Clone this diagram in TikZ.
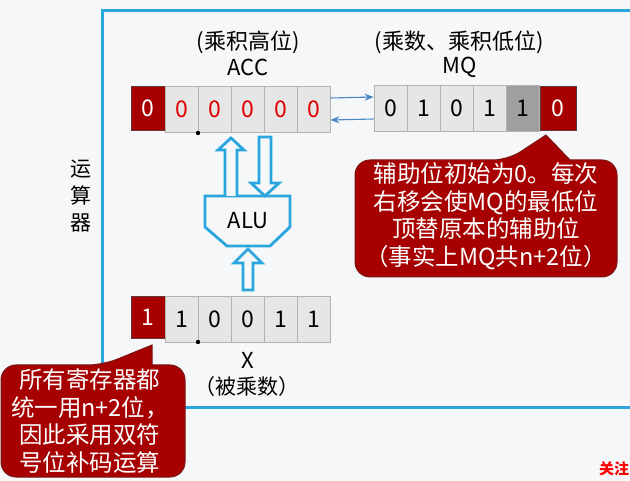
\documentclass[tikz,border=0pt]{standalone}
\usepackage{fontspec}
\setmainfont{Noto Sans CJK SC}
\usetikzlibrary{arrows.meta}

\definecolor{bgcol}{HTML}{F6F7F8}
\definecolor{frameblue}{HTML}{2AA6DF}
\definecolor{cellgray}{HTML}{E6E6E6}
\definecolor{cellline}{HTML}{B2B2B2}
\definecolor{darkcell}{HTML}{9F9F9F}
\definecolor{signred}{HTML}{A80000}
\definecolor{signline}{HTML}{5E3A3A}
\definecolor{digitred}{HTML}{E00000}
\definecolor{calloutred}{HTML}{A60000}
\definecolor{calloutline}{HTML}{7A1515}
\definecolor{linkblue}{HTML}{4A88C8}

\tikzset{
  bit/.style={draw=cellline, fill=cellgray, line width=0.8pt, minimum width=33pt,
    minimum height=46pt, inner sep=0pt, font=\fontsize{23}{23}\selectfont},
  signbit/.style={draw=signline, fill=signred, line width=0.8pt, minimum width=34pt,
    minimum height=44pt, inner sep=0pt, text=white, font=\fontsize{23}{23}\selectfont},
  label/.style={inner sep=0pt, font=\fontsize{21}{21}\selectfont},
  hollow/.style={draw=frameblue, fill=bgcol, line width=2.8pt, line join=miter},
  link/.style={draw=linkblue, line width=1.1pt, -{Stealth[length=9pt,width=7pt]}},
  callout/.style={fill=calloutred, draw=calloutline, line width=1pt},
  callouttext/.style={text=white, align=center, inner sep=0pt,
    font=\fontsize{23.5}{27.5}\selectfont},
}

\begin{document}
\begin{tikzpicture}[x=1pt,y=-1pt]
  % page and unit frame
  \fill[bgcol] (0,0) rectangle (630,481);
  \useasboundingbox (0,0) rectangle (630,481);
  \draw[frameblue, line width=3pt] (640,11) -- (102,11) -- (102,408) -- (640,408);

  \node[align=center, inner sep=0pt, font=\fontsize{21}{27}\selectfont] (unit) at (81,196) {运\\算\\器};

  % ACC register
  \node[signbit] (acc0) at (148,108) {0};
  \foreach \i/\v in {1/0,2/0,3/0,4/0,5/0}
    \node[bit, text=digitred] (acc\i) at (148.5+33*\i,109) {\v};
  \node[label, font=\fontsize{22}{22}\selectfont] (acctitle) at (248,42) {(乘积高位)};
  \node[label, font=\fontsize{22}{22}\selectfont] (accname) at (248,67) {ACC};
  \fill (198,133) circle (2.2pt);

  % MQ register
  \foreach \i/\v in {0/0,1/1,2/0,3/1}
    \node[bit] (mq\i) at (390.5+33*\i,108) {\v};
  \node[bit, fill=darkcell] (mq4) at (522.5,108) {1};
  \node[signbit, minimum width=36pt] (mq5) at (558,108) {0};
  \node[label, font=\fontsize{22}{22}\selectfont] (mqtitle) at (459,42) {(乘数、乘积低位)};
  \node[label, font=\fontsize{22}{22}\selectfont] (mqname) at (460,67) {MQ};

  % shift paths between ACC and MQ
  \draw[link] ([yshift=11pt]acc5.east) -- ([yshift=11pt]mq0.west);
  \draw[link] ([yshift=-11pt]mq0.west) -- ([yshift=-11pt]acc5.east);

  % ALU
  \draw[hollow] (205,196) -- (290,196) -- (290,227) -- (270,246) -- (227,246) -- (205,227) -- cycle;
  \node[label, font=\fontsize{22}{22}\selectfont] (alu) at (248,221) {ALU};

  % data paths ACC <-> ALU and X -> ALU
  \draw[hollow] (225,196) -- (225,150) -- (218,150) -- (231,138) -- (244,150) -- (237,150) -- (237,196);
  \draw[hollow] (259,137) -- (271,137) -- (271,183) -- (279,183) -- (265,196) -- (251,183) -- (259,183) -- cycle;
  \draw[hollow] (243,290) -- (243,263) -- (234,263) -- (248,249) -- (262,263) -- (253,263) -- (253,290) -- cycle;

  % X register
  \node[signbit, minimum height=42pt] (x0) at (148,317) {1};
  \foreach \i/\v in {1/1,2/0,3/0,4/1,5/1}
    \node[bit] (x\i) at (148.5+33*\i,319) {\v};
  \fill (198,342) circle (2.2pt);
  \node[label, font=\fontsize{22}{22}\selectfont] (xname) at (248,360) {X};
  \node[label] (xnote) at (247,387) {（被乘数）};

  % note on the auxiliary bit
  \path[callout] (355,218) [rounded corners=15pt] -- (355,160) -- (508,160)
    [sharp corners] -- (546,135) -- (570,160)
    [rounded corners=15pt] -- (617,160) -- (617,277) -- (355,277) -- cycle;
  \node[callouttext] (auxnote) at (486,216)
    {辅助位初始为0。每次\\右移会使MQ的最低位\\顶替原本的辅助位\\（事实上MQ共n+2位）};

  % note on the register width
  \path[callout] (1,420) [rounded corners=15pt] -- (1,365) -- (103,365)
    [sharp corners] -- (152,345) -- (152,365)
    [rounded corners=15pt] -- (185,365) -- (185,477) -- (1,477) -- cycle;
  \node[callouttext] (widthnote) at (90,421)
    {所有寄存器都\\统一用n+2位，\\因此采用双符\\号位补码运算};

  \node[inner sep=0pt, text=red, font=\bfseries\fontsize{15}{15}\selectfont] (follow) at (614,469) {关注};
\end{tikzpicture}
\end{document}
